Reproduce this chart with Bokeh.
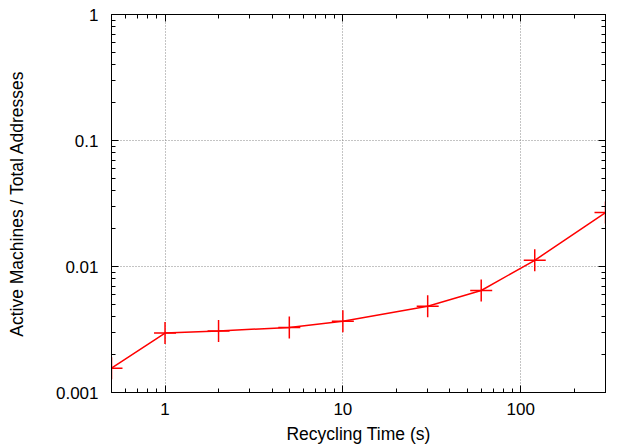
import math
from bokeh.plotting import figure
from bokeh.models import (FixedTicker, LogAxis, CustomJSTickFormatter, Range1d)
from bokeh.embed import file_html
from bokeh.resources import INLINE

# data
recycle_time = [0.5, 1, 2, 5, 10, 30, 60, 120, 300]
active_ratio = [0.00156, 0.00296, 0.00308, 0.00328, 0.00368, 0.00484, 0.00645, 0.0112, 0.0268]

x_ticks = [1, 10, 100]
y_ticks = [0.001, 0.01, 0.1, 1]
x_minor = [0.6, 0.7, 0.8, 0.9] + [m * d for d in (1, 10, 100) for m in range(2, 10)]
y_minor = [m * d for d in (0.001, 0.01, 0.1) for m in range(2, 10)]

FONT = "Liberation Sans"

p = figure(width=622, height=447, x_axis_type="log", y_axis_type="log",
           x_range=Range1d(0.5, 300), y_range=Range1d(0.001, 1),
           output_backend="svg", toolbar_location=None,
           min_border_left=111, min_border_right=17, min_border_top=14, min_border_bottom=55)
p.outline_line_color = "black"
p.outline_line_width = 1

fmt = CustomJSTickFormatter(code="return String(tick);")
blank = CustomJSTickFormatter(code="return '';")

def style_axis(ax, ticks, minor, show_labels=True):
    ax.ticker = FixedTicker(ticks=ticks, minor_ticks=minor)
    ax.major_tick_in = 7
    ax.major_tick_out = 0
    ax.minor_tick_in = 4
    ax.minor_tick_out = 0
    ax.axis_line_color = "black"
    ax.major_tick_line_color = "black"
    ax.minor_tick_line_color = "black"
    ax.major_label_text_font = FONT
    ax.major_label_text_color = "black"
    ax.major_label_text_font_size = "17px"
    ax.axis_label_text_font = FONT
    ax.axis_label_text_font_size = "17.5px"
    ax.axis_label_text_font_style = "normal"
    ax.axis_label_text_color = "black"
    if show_labels:
        ax.formatter = fmt
    else:
        ax.formatter = blank
        ax.major_label_standoff = 0

style_axis(p.xaxis[0], x_ticks, x_minor)
style_axis(p.yaxis[0], y_ticks, y_minor)
p.xaxis[0].major_label_standoff = 10
p.yaxis[0].major_label_standoff = 13
p.xaxis[0].axis_label = "Recycling Time (s)"
p.xaxis[0].axis_label_standoff = 6
p.yaxis[0].axis_label = "Active Machines / Total Addresses"
p.yaxis[0].axis_label_standoff = 26

top = LogAxis()
style_axis(top, x_ticks, x_minor, show_labels=False)
p.add_layout(top, "above")
right = LogAxis()
style_axis(right, y_ticks, y_minor, show_labels=False)
p.add_layout(right, "right")

for g, t in ((p.xgrid[0], x_ticks), (p.ygrid[0], y_ticks)):
    g.ticker = FixedTicker(ticks=t)
    g.grid_line_color = "#888888"
    g.grid_line_dash = "1 2"
    g.grid_line_width = 1

p.line(recycle_time, active_ratio, line_color="#ff0000", line_width=1.5)
p.scatter(recycle_time, active_ratio, marker="cross", size=22, line_color="#ff0000", line_width=1.5)

open("out.html", "w").write(file_html(p, INLINE))
